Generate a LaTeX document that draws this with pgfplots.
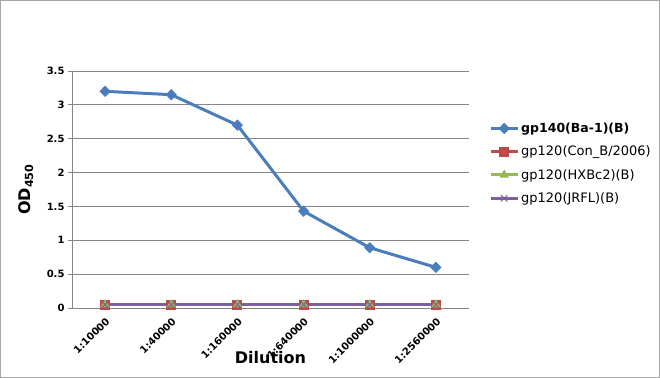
\documentclass[border=0pt]{standalone}
\usepackage{fontspec}
\setmainfont{DejaVu Sans}
\usepackage{pgfplots}
\pgfplotsset{compat=1.18}
\definecolor{cblue}{HTML}{4A7EBB}
\definecolor{cred}{HTML}{BE4B48}
\definecolor{cgreen}{HTML}{98B954}
\definecolor{cpurple}{HTML}{7D60A0}
\definecolor{gridgray}{HTML}{868686}
\begin{document}
\begin{tikzpicture}
\useasboundingbox (0,0) rectangle (660bp,378bp);
\draw[gray!70, line width=1bp] (0.5bp,0.5bp) rectangle (659.5bp,377.5bp);
\begin{axis}[
 at={(72bp,70bp)}, anchor=south west,
 scale only axis, width=397bp, height=237bp,
 xmin=-0.5, xmax=5.5, ymin=0, ymax=3.5,
 xtick={0,...,5},
 xticklabels={1:10000,1:40000,1:160000,1:640000,1:1000000,1:2560000},
 ytick={0,0.5,...,3.5},
 axis x line=bottom, axis y line=left,
 axis line style={-, gridgray, line width=0.9bp},
 ymajorgrids, major grid style={gridgray, line width=0.9bp},
 x tick style={draw=none}, y tick style={gridgray, line width=0.9bp},
 tick align=outside, major tick length=4bp,
 /pgf/number format/assume math mode=true,
 tick label style={font=\bfseries\fontsize{10bp}{12bp}\selectfont},
 x tick label style={rotate=45, anchor=north east},
 xlabel={Dilution}, ylabel={OD\textsubscript{450}},
 label style={font=\bfseries\fontsize{16bp}{19bp}\selectfont},
 xlabel style={at={(axis description cs:0.5,-0.211)}, anchor=center},
 ylabel style={at={(axis description cs:-0.1159,0.5)}, anchor=center},
 legend style={at={(axis description cs:1.0504,0.79)}, anchor=north west,
   draw=none, fill=none, inner sep=0pt, font=\fontsize{13bp}{15bp}\selectfont,
   row sep=8bp},
 legend cell align=left,
 legend image code/.code={\draw[mark repeat=2, mark phase=2] plot coordinates {(0bp,0bp) (13.5bp,0bp) (27bp,0bp)};},
]
\addplot[cblue, line width=3bp, mark=diamond*, mark size=5bp, mark options={solid, xscale=1.3, line width=1bp}]
 coordinates {(0,3.2)(1,3.15)(2,2.7)(3,1.43)(4,0.89)(5,0.6)};
\addlegendentry{\bfseries\fontsize{12.5bp}{15bp}\selectfont gp140(Ba-1)(B)}
\addplot[cred, line width=3bp, mark=square*, mark size=4.5bp, mark options={solid, line width=1bp}]
 coordinates {(0,0.05)(1,0.05)(2,0.05)(3,0.05)(4,0.05)(5,0.05)};
\addlegendentry{gp120(Con\_B/2006)}
\addplot[cgreen, line width=3bp, mark=triangle*, mark size=4.5bp, mark options={solid, line width=1bp}]
 coordinates {(0,0.05)(1,0.05)(2,0.05)(3,0.05)(4,0.05)(5,0.05)};
\addlegendentry{gp120(HXBc2)(B)}
\addplot[cpurple, line width=3bp, mark=x, mark size=4.5bp, mark options={solid, line width=1bp}]
 coordinates {(0,0.05)(1,0.05)(2,0.05)(3,0.05)(4,0.05)(5,0.05)};
\addlegendentry{gp120(JRFL)(B)}
\end{axis}
\end{tikzpicture}
\end{document}
